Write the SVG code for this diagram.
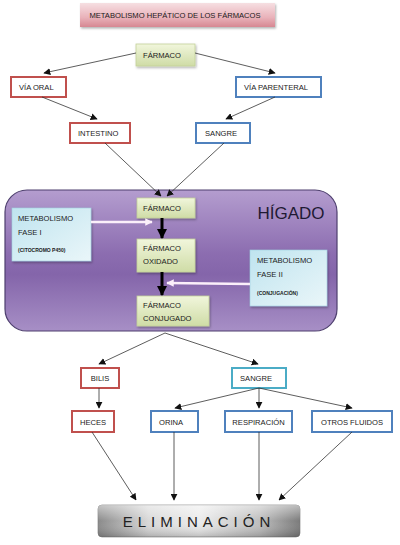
<svg xmlns="http://www.w3.org/2000/svg" width="400" height="545" viewBox="0 0 400 545">
<defs>
<linearGradient id="gTitle" x1="0" y1="0" x2="0" y2="1"><stop offset="0" stop-color="#f6dfe2"/><stop offset="0.6" stop-color="#e9b2ba"/><stop offset="1" stop-color="#d68792"/></linearGradient>
<linearGradient id="gGreen" x1="0" y1="0" x2="0" y2="1"><stop offset="0" stop-color="#f1f6dc"/><stop offset="1" stop-color="#cfdca6"/></linearGradient>
<linearGradient id="gLiver" x1="0" y1="0" x2="0" y2="1"><stop offset="0" stop-color="#b49dcf"/><stop offset="0.45" stop-color="#8c6db0"/><stop offset="0.6" stop-color="#8465aa"/><stop offset="1" stop-color="#a78fc6"/></linearGradient>
<linearGradient id="gBlue" x1="0" y1="0" x2="1" y2="1"><stop offset="0" stop-color="#bfe4ef"/><stop offset="1" stop-color="#eaf6f9"/></linearGradient>
<linearGradient id="gElim" x1="0" y1="0" x2="1" y2="0"><stop offset="0" stop-color="#8a8a8a"/><stop offset="0.25" stop-color="#d8d8d8"/><stop offset="0.5" stop-color="#ececec"/><stop offset="0.8" stop-color="#bdbdbd"/><stop offset="1" stop-color="#7a7a7a"/></linearGradient>
<linearGradient id="gElimV" x1="0" y1="0" x2="0" y2="1"><stop offset="0" stop-color="#ffffff" stop-opacity="0.5"/><stop offset="0.5" stop-color="#ffffff" stop-opacity="0"/><stop offset="1" stop-color="#000000" stop-opacity="0.2"/></linearGradient>
<marker id="ah" viewBox="0 0 10 10" refX="9" refY="5" markerWidth="7" markerHeight="7" markerUnits="userSpaceOnUse" orient="auto"><path d="M0,0 L10,5 L0,10 z" fill="#111"/></marker>
<marker id="ahBig" viewBox="0 0 10 10" refX="9" refY="5" markerWidth="3.5" markerHeight="3.5" orient="auto"><path d="M0,0 L10,5 L0,10 z" fill="#000"/></marker>
<marker id="ahW" viewBox="0 0 10 10" refX="9" refY="5" markerWidth="3" markerHeight="3" orient="auto"><path d="M0,0 L10,5 L0,10 z" fill="#fbeffa"/></marker>
<filter id="sh" x="-10%" y="-10%" width="130%" height="140%"><feDropShadow dx="1" dy="1.5" stdDeviation="1" flood-color="#000" flood-opacity="0.3"/></filter>
</defs>
<style>
text{font-family:"Liberation Sans",Arial,sans-serif;fill:#1a1a1a;}
.t{font-size:7.6px;text-anchor:middle;}
.tl{font-size:7.6px;}
.small{font-size:5px;font-weight:bold;}
.red{fill:#fff;stroke:#c0504d;stroke-width:2;}
.blu{fill:#fff;stroke:#4f81bd;stroke-width:2;}
.cya{fill:#fff;stroke:#4bacc6;stroke-width:2;}
.grn{fill:url(#gGreen);stroke:#c3d19a;stroke-width:0.8;}
.fase{fill:url(#gBlue);stroke:#9fd0df;stroke-width:0.6;}
.edge{stroke:#333;stroke-width:0.8;fill:none;marker-end:url(#ah);}
.thick{stroke:#000;stroke-width:3;fill:none;marker-end:url(#ahBig);}
.white{stroke:#fbeffa;stroke-width:2.5;fill:none;marker-end:url(#ahW);}
</style>
<rect width="400" height="545" fill="#fff"/>

<g id="title"><rect x="80" y="3" width="195" height="24" fill="url(#gTitle)" filter="url(#sh)"/><text class="t" x="175" y="17.5">METABOLISMO HEPÁTICO DE LOS FÁRMACOS</text></g>

<g id="liver"><rect x="5" y="190" width="332" height="141" rx="22" fill="url(#gLiver)" stroke="#4e3f6e" stroke-width="1.2"/><text x="291" y="219" font-size="17" text-anchor="middle" style="fill:#1f1a33">HÍGADO</text></g>

<g id="farmaco-top"><rect class="grn" x="136" y="44" width="59" height="22" filter="url(#sh)"/><text class="tl" x="143" y="57.5">FÁRMACO</text></g>
<g id="via-oral"><rect class="red" x="11" y="77" width="55" height="20"/><text class="tl" x="19" y="90">VÍA ORAL</text></g>
<g id="via-parenteral"><rect class="blu" x="236" y="77" width="85" height="20"/><text class="tl" x="244" y="90">VÍA PARENTERAL</text></g>
<g id="intestino"><rect class="red" x="70" y="123" width="60" height="20"/><text class="tl" x="78" y="136">INTESTINO</text></g>
<g id="sangre-top"><rect class="blu" x="196" y="123" width="54" height="20"/><text class="tl" x="205" y="136">SANGRE</text></g>

<g id="farmaco-liver"><rect class="grn" x="137" y="198" width="58" height="20" filter="url(#sh)"/><text class="tl" x="143" y="211">FÁRMACO</text></g>
<g id="fase1"><rect class="fase" x="12" y="208" width="79" height="53" filter="url(#sh)"/><text class="tl" x="18" y="221">METABOLISMO</text><text class="tl" x="18" y="235">FASE I</text><text class="small" x="18" y="252">(CITOCROMO P450)</text></g>
<g id="oxidado"><rect class="grn" x="137" y="239" width="58" height="33" filter="url(#sh)"/><text class="tl" x="143" y="251">FÁRMACO</text><text class="tl" x="143" y="264">OXIDADO</text></g>
<g id="fase2"><rect class="fase" x="250" y="250" width="77" height="56" filter="url(#sh)"/><text class="tl" x="257" y="263">METABOLISMO</text><text class="tl" x="257" y="277">FASE II</text><text class="small" x="257" y="295">(CONJUGACIÓN)</text></g>
<g id="conjugado"><rect class="grn" x="137" y="296" width="72" height="30" filter="url(#sh)"/><text class="tl" x="143" y="308">FÁRMACO</text><text class="tl" x="143" y="321">CONJUGADO</text></g>

<g id="bilis"><rect class="red" x="81" y="368" width="38" height="20"/><text class="t" x="100" y="381">BILIS</text></g>
<g id="sangre-bottom"><rect class="cya" x="232" y="368" width="54" height="20"/><text class="tl" x="240" y="381">SANGRE</text></g>
<g id="heces"><rect class="red" x="72" y="411" width="42" height="21"/><text class="t" x="93" y="424.5">HECES</text></g>
<g id="orina"><rect class="blu" x="151" y="411" width="47" height="21"/><text class="tl" x="159" y="424.5">ORINA</text></g>
<g id="respiracion"><rect class="blu" x="225" y="411" width="67" height="21"/><text class="t" x="258.5" y="424.5">RESPIRACIÓN</text></g>
<g id="otros"><rect class="blu" x="312" y="411" width="80" height="21"/><text class="t" x="352" y="424.5">OTROS FLUIDOS</text></g>

<g id="eliminacion"><rect x="98" y="505" width="202" height="32" rx="4" fill="url(#gElim)" stroke="#777" stroke-width="0.6"/><rect x="98" y="505" width="202" height="32" rx="4" fill="url(#gElimV)"/><text x="199" y="527" font-size="15" text-anchor="middle" letter-spacing="5" style="fill:#222">ELIMINACIÓN</text></g>

<g id="connectors">
<line class="edge" x1="136" y1="53" x2="44" y2="73"/>
<line class="edge" x1="195" y1="53" x2="275" y2="73"/>
<line class="edge" x1="42" y1="97" x2="97" y2="119"/>
<line class="edge" x1="275" y1="97" x2="226" y2="119"/>
<line class="edge" x1="105" y1="143" x2="161" y2="196"/>
<line class="edge" x1="224" y1="143" x2="167" y2="196"/>
<line class="thick" x1="162" y1="218" x2="162" y2="238"/>
<line class="thick" x1="162" y1="272" x2="162" y2="295"/>
<line class="white" x1="91" y1="222" x2="152" y2="222"/>
<line class="white" x1="250" y1="284" x2="167" y2="283"/>
<line class="edge" x1="165" y1="333" x2="99" y2="364"/>
<line class="edge" x1="165" y1="333" x2="258" y2="364"/>
<line class="edge" x1="99" y1="388" x2="99" y2="408"/>
<line class="edge" x1="259" y1="388" x2="175" y2="408"/>
<line class="edge" x1="259" y1="388" x2="259" y2="408"/>
<line class="edge" x1="259" y1="388" x2="352" y2="408"/>
<line class="edge" x1="92" y1="432" x2="136" y2="500"/>
<line class="edge" x1="174" y1="432" x2="174" y2="500"/>
<line class="edge" x1="259" y1="432" x2="259" y2="500"/>
<line class="edge" x1="352" y1="432" x2="279" y2="500"/>
</g>
</svg>
